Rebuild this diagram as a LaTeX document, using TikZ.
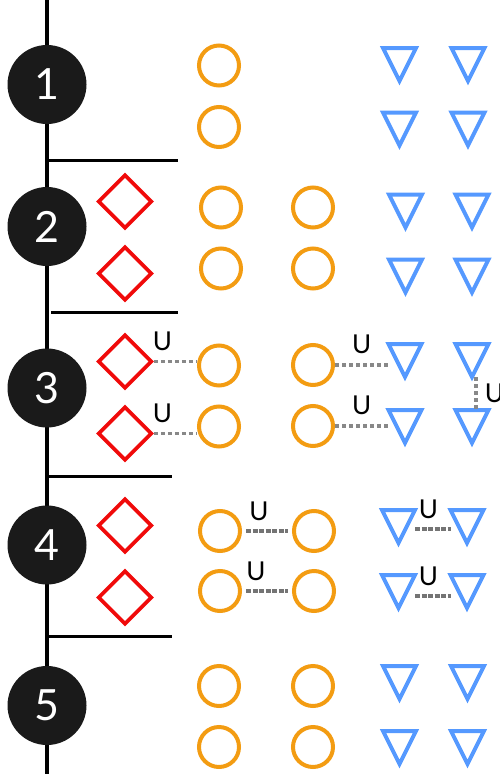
\documentclass[tikz,border=0pt]{standalone}
\usepackage{fontspec}
\setmainfont{Lato}
\usetikzlibrary{shapes.geometric}
\definecolor{ballblack}{HTML}{1A1A1A}
\definecolor{ringorange}{HTML}{F39C12}
\definecolor{boxred}{HTML}{F00A0A}
\definecolor{triblue}{HTML}{5599FF}
\definecolor{linkgray}{HTML}{888888}
% triangle = empty box node + its outline
\newcommand{\tri}[2]{%
  \node[tribox] (#1) at (#2) {};
  \draw[triline] (#1.north west) -- (#1.north east) -- (#1.south) -- cycle;}

\begin{document}
\begin{tikzpicture}[x=1pt, y=-1pt,
  num/.style={circle, fill=ballblack, minimum size=79pt, inner sep=0pt, text=white, font=\fontsize{43}{43}\selectfont},
  ring/.style={circle, draw=ringorange, line width=4pt, minimum size=40pt, inner sep=0pt},
  rhomb/.style={diamond, draw=boxred, line width=3.6pt, minimum size=54pt, inner sep=0pt},
  tribox/.style={rectangle, minimum size=33pt, inner sep=0pt, outer sep=0pt},
  triline/.style={draw=triblue, line width=4pt},
  rule/.style={draw=black, line width=3.6pt},
  dotlink/.style={draw=linkgray, line width=3.6pt, dash pattern=on 4pt off 3pt},
  dashlink/.style={draw=linkgray!85!black, line width=3.4pt, dash pattern=on 5pt off 1.5pt},
  ulab/.style={font=\fontsize{26}{26}\selectfont, inner sep=0pt}]
	\useasboundingbox (0,0) rectangle (499,774);
	% spine and separators
	\draw[rule, line width=4pt] (47,0) -- (47,774);
	\draw[rule] (47,160.5) -- (178,160.5);
	\draw[rule] (51,312.5) -- (178,312.5);
	\draw[rule] (47,476.5) -- (172,476.5);
	\draw[rule] (47,636.5) -- (172,636.5);
	\node[num] (n1) at (47,84.5) {1};
	\node[num] (n2) at (47,226.5) {2};
	\node[num] (n3) at (47,388) {3};
	\node[num] (n4) at (47,545) {4};
	\node[num] (n5) at (47,705.5) {5};
	% row 1
	\node[ring] (c1a) at (219,65.5) {};
	\node[ring] (c1b) at (219,127) {};
	\tri{t1a}{399.5,64.5} \tri{t1b}{468,64.5}
	\tri{t1c}{399.5,129} \tri{t1d}{468,129}
	% row 2
	\node[rhomb] (d2a) at (125,201.5) {};
	\node[rhomb] (d2b) at (125,273.5) {};
	\node[ring] (c2a) at (221,207.5) {};
	\node[ring] (c2b) at (221,268.5) {};
	\node[ring] (c2c) at (313,207.5) {};
	\node[ring] (c2d) at (313,268.5) {};
	\tri{t2a}{405.5,211} \tri{t2b}{472,211}
	\tri{t2c}{405.5,276} \tri{t2d}{472,276}
	% row 3
	\node[rhomb] (d3a) at (125,361.5) {};
	\node[rhomb] (d3b) at (125,433.5) {};
	\node[ring] (c3a) at (219,365.5) {};
	\node[ring] (c3b) at (219,426.5) {};
	\node[ring] (c3c) at (313,365) {};
	\node[ring] (c3d) at (313,426) {};
	\tri{t3a}{405,360.5} \tri{t3b}{472,360.5}
	\tri{t3c}{405,426.5} \tri{t3d}{472,426.5}
	\draw[dotlink] (d3a.east) -- (d3a.east -| c3a.west) node[ulab, pos=0.2, above=9pt] {U};
	\draw[dotlink] (d3b.east) -- (d3b.east -| c3b.west) node[ulab, pos=0.2, above=9pt] {U};
	\draw[dotlink] (c3c) -- (c3c -| t3a.west) node[ulab, midway, above=9pt] {U};
	\draw[dotlink] (c3d) -- (c3d -| t3c.west) node[ulab, midway, above=9pt] {U};
	\draw[dotlink] ([xshift=4pt]t3b.south) -- ([xshift=4pt]t3d.north) node[ulab, midway, right=7pt] {U};
	% row 4
	\node[rhomb] (d4a) at (125,525.5) {};
	\node[rhomb] (d4b) at (125,597.5) {};
	\node[ring] (c4a) at (220,531) {};
	\node[ring] (c4b) at (220,591) {};
	\node[ring] (c4c) at (314,531) {};
	\node[ring] (c4d) at (314,591) {};
	\tri{t4a}{398.5,526.5} \tri{t4b}{467,526.5}
	\tri{t4c}{398.5,591.5} \tri{t4d}{467,591.5}
	\draw[dashlink, shorten <=4pt, shorten >=4pt] (c4a) -- (c4c) node[ulab, pos=0.34, above=9pt] {U};
	\draw[dashlink, shorten <=4pt, shorten >=4pt] (c4b) -- (c4d) node[ulab, pos=0.28, above=9pt] {U};
	\draw[dashlink] ([yshift=-2.5pt]t4a.east) -- ([yshift=-2.5pt]t4b.west) node[ulab, pos=0.38, above=9pt] {U};
	\draw[dashlink] ([yshift=-4.5pt]t4c.east) -- ([yshift=-4.5pt]t4d.west) node[ulab, pos=0.38, above=9pt] {U};
	% row 5
	\node[ring] (c5a) at (219,686) {};
	\node[ring] (c5b) at (219,747) {};
	\node[ring] (c5c) at (313,686) {};
	\node[ring] (c5d) at (313,747) {};
	\tri{t5a}{399.5,682.5} \tri{t5b}{467.5,682.5}
	\tri{t5c}{399.5,747.5} \tri{t5d}{467.5,747.5}
\end{tikzpicture}
\end{document}
